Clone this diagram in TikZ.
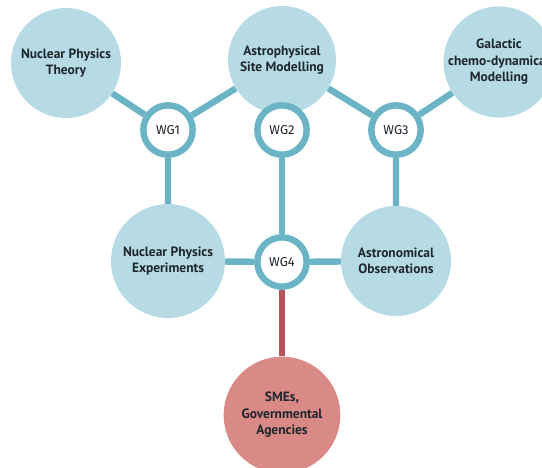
\documentclass[tikz,border=0pt]{standalone}
\usepackage{fontspec}
\setmainfont{PT Sans}
\newfontfamily\wgfont{Fira Sans}
\usetikzlibrary{backgrounds}
\definecolor{areablue}{HTML}{B6DBE4}
\definecolor{ringteal}{HTML}{6AB4C6}
\definecolor{linkred}{HTML}{B5525A}
\definecolor{smered}{HTML}{D98A87}
\definecolor{labeltext}{HTML}{1E252C}
\begin{document}
\begin{tikzpicture}[x=0.03cm, y=-0.03cm,
        area/.style = {circle, fill=areablue, minimum size=3.3cm, inner sep=0pt, align=center,
            font=\bfseries\fontsize{11.5pt}{14pt}\selectfont, text=labeltext},
        wg/.style = {circle, draw=ringteal, line width=5.5pt, fill=white, minimum size=1.48cm, inner sep=0pt,
            font=\wgfont\fontsize{11pt}{13pt}\selectfont, text=labeltext},
        link/.style = {ringteal, line width=5.5pt}]
        \useasboundingbox (0,0) rectangle (542,467);
        \node[area] (theory) at (66,63) {Nuclear Physics\\Theory};
        \node[area, minimum size=3.24cm] (site) at (282,60) {Astrophysical\\Site Modelling};
        \node[area] (galactic) at (499,62) {Galactic\\chemo-dynamical\\Modelling};
        \node[wg] (wg1) at (168,130) {WG1};
        \node[wg] (wg2) at (282,130) {WG2};
        \node[wg] (wg3) at (396,130) {WG3};
        \node[area, minimum size=3.42cm] (experiments) at (168,261) {Nuclear Physics\\Experiments};
        \node[wg] (wg4) at (282,262) {WG4};
        \node[area] (observations) at (396,261) {Astronomical\\Observations};
        \node[area, fill=smered, minimum size=3.5cm] (smes) at (282,415) {SMEs,\\Governmental\\Agencies};
        \begin{scope}[on background layer]
            \draw[link] (theory) -- (wg1) -- (site) -- (wg3) -- (galactic);
            \draw[link] (wg1) -- (experiments) -- (wg4) -- (observations) -- (wg3);
            \draw[link] (wg2) -- (wg4);
            \draw[linkred, line width=5.5pt] (wg4) -- (smes);
        \end{scope}
\end{tikzpicture}
\end{document}
